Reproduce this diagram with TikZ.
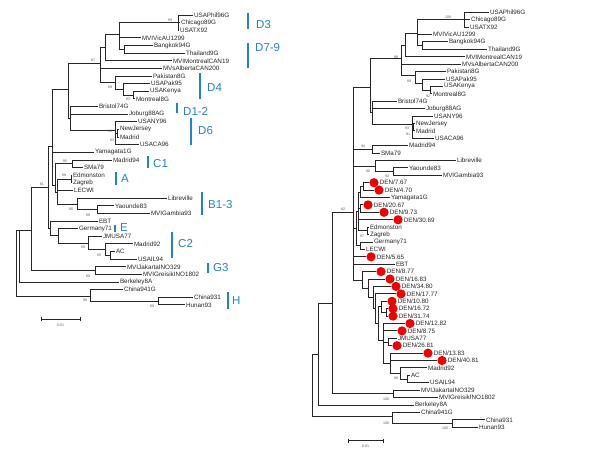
\documentclass[tikz,border=0pt]{standalone}
\usepackage{fontspec}
\setmainfont{Liberation Sans}
\definecolor{grpblue}{RGB}{36,128,206}
\definecolor{denred}{RGB}{240,0,0}
\begin{document}
\begin{tikzpicture}[x=1pt,y=-1pt,
  br/.style={line width=0.9pt, black!85},
  leaf/.style={anchor=west, inner sep=0.8pt, font=\fontsize{6.3}{7}\selectfont, text=black!85},
  bs/.style={inner sep=0, font=\fontsize{3.6}{4}\selectfont, text=black!65},
  grp/.style={anchor=west, inner sep=0, font=\fontsize{11.5}{12}\selectfont, text=grpblue},
  gbar/.style={line width=1.5pt, grpblue},
  dot/.style={circle, fill=denred, draw=none, inner sep=0, minimum size=9.2pt},
  sbar/.style={line width=0.9pt, black!85}]
\useasboundingbox (0,0) rectangle (600,450);

% ================= LEFT TREE =================
\node[leaf] (a1) at (193,15) {USAPhil96G};
\node[leaf] (a2) at (180,22.6) {Chicago89G};
\node[leaf] (a3) at (179,30.3) {USATX92};
\node[leaf] (a4) at (141,37.9) {MVIVicAU1299};
\node[leaf] (a5) at (153,45.5) {Bangkok94G};
\node[leaf] (a6) at (185,53.2) {Thailand9G};
\node[leaf] (a7) at (172,60.8) {MVIMontrealCAN19};
\node[leaf] (a8) at (162,68.4) {MVsAlbertaCAN200};
\node[leaf] (a9) at (152,76) {Pakistan8G};
\node[leaf] (a10) at (150,83.7) {USAPak95};
\node[leaf] (a11) at (149,91.3) {USAKenya};
\node[leaf] (a12) at (135,98.9) {Montreal8G};
\node[leaf] (a13) at (98,106.6) {Bristol74G};
\node[leaf] (a14) at (128,114.2) {Joburg88AG};
\node[leaf] (a15) at (137,121.8) {USANY96};
\node[leaf] (a16) at (119,129.4) {NewJersey};
\node[leaf] (a17) at (119,137.1) {Madrid};
\node[leaf] (a18) at (139,144.7) {USACA96};
\node[leaf] (a19) at (94,152.3) {Yamagata1G};
\node[leaf] (a20) at (112,160) {Madrid94};
\node[leaf] (a21) at (83,167.6) {SMa79};
\node[leaf] (a22) at (72,175.2) {Edmonston};
\node[leaf] (a23) at (72,182.9) {Zagreb};
\node[leaf] (a24) at (73,190.5) {LECWI};
\node[leaf] (a25) at (167,198.1) {Libreville};
\node[leaf] (a26) at (114,205.8) {Yaounde83};
\node[leaf] (a27) at (150,213.4) {MVIGambia93};
\node[leaf] (a28) at (98,221) {EBT};
\node[leaf] (a29) at (78,228.6) {Germany71};
\node[leaf] (a30) at (102,236.3) {JMUSA77};
\node[leaf] (a31) at (133,243.9) {Madrid92};
\node[leaf] (a32) at (115,251.5) {AC};
\node[leaf] (a33) at (137,259.2) {USAIL94};
\node[leaf] (a34) at (126,266.8) {MVIJakartaINO329};
\node[leaf] (a35) at (142,274.4) {MVIGreisikINO1802};
\node[leaf] (a36) at (119,282) {Berkeley8A};
\node[leaf] (a37) at (123,289.6) {China941G};
\node[leaf] (a38) at (193,297.3) {China931};
\node[leaf] (a39) at (185,304.9) {Hunan93};

\coordinate (aR) at (16,263);
\coordinate (a19n) at (19,230);
\coordinate (a31n) at (31,230);
\coordinate (aG3) at (95,270.6);
\coordinate (aH) at (90,296);
\coordinate (aCH) at (158,301.1);
\coordinate (a81) at (48,187);
\coordinate (aLE) at (50,228.4);
\coordinate (a58) at (58,235.8);
\coordinate (aJ) at (88,243);
\coordinate (aK) at (105,249.6);
\coordinate (aL) at (110,255.4);
\coordinate (aM) at (52,146);
\coordinate (aS) at (55,185);
\coordinate (aS2) at (57,192);
\coordinate (aC1) at (72,163.8);
\coordinate (aA) at (71,179);
\coordinate (aB) at (77,204.3);
\coordinate (aYG) at (97,209.6);
\coordinate (aG68) at (68,89);
\coordinate (aE70) at (70,118);
\coordinate (aD6) at (115,130);
\coordinate (aNJ) at (117,133.2);
\coordinate (aN97) at (100,63);
\coordinate (aP1) at (105,47.5);
\coordinate (aN119) at (119,34.8);
\coordinate (aD3) at (178,22.6);
\coordinate (aBT) at (124,49.3);
\coordinate (aD4) at (115,82.5);
\coordinate (aV) at (123,89);
\coordinate (aW) at (133,95.1);

\foreach \p/\c in {aR/a19n, aR/aH, a19n/a31n, a19n/a36, a31n/a81, a31n/aG3,
  aG3/a34, aG3/a35, aH/a37, aH/aCH, aCH/a38, aCH/a39, a81/aM, a81/aLE,
  aLE/a28, aLE/a58, a58/a29, a58/aJ, aJ/a30, aJ/aK, aK/a31, aK/aL, aL/a32, aL/a33,
  aM/aG68, aM/a19, aM/aS, aS/aC1, aS/aS2, aS2/aA, aS2/a24, aS2/aB,
  aC1/a20, aC1/a21, aA/a22, aA/a23, aB/a25, aB/aYG, aYG/a26, aYG/a27,
  aG68/aN97, aG68/aE70, aE70/a13, aE70/a14, aE70/aD6, aD6/a15, aD6/aNJ, aD6/a18,
  aNJ/a16, aNJ/a17, aN97/aP1, aN97/a8, aN97/aD4, aP1/aN119, aP1/a7,
  aN119/aD3, aN119/a4, aN119/aBT, aD3/a1, aD3/a2, aD3/a3, aBT/a5, aBT/a6,
  aD4/a9, aD4/aV, aV/a10, aV/aW, aW/a11, aW/a12}
  \draw[br] (\p) |- (\c);

\foreach \t/\x/\y in {99/170/20, 97/93/60, 89/110/87, 93/128/99, 98/110/131, 93/112/140,
  95/65/161, 98/64/175, 90/71/209, 99/88/215, 81/42/184, 99/83/247, 95/99/255,
  99/88/276, 99/85/300, 99/152/306}
  \node[bs] at (\x,\y) {\t};

% group labels
\draw[gbar] (248,12.7) -- (248,29.3);  \node[grp] (gD3) at (256,25) {D3};
\draw[gbar] (248,42.7) -- (248,68.3);  \node[grp] (gD7) at (255,48) {D7-9};
\draw[gbar] (200,72.7) -- (200,99.3);  \node[grp] (gD4) at (207,88) {D4};
\draw[gbar] (177,103) -- (177,113);    \node[grp] (gD1) at (183,111) {D1-2};
\draw[gbar] (191,118) -- (191,145);    \node[grp] (gD6) at (198,131) {D6};
\draw[gbar] (148,156) -- (148,168);    \node[grp] (gC1) at (153,164) {C1};
\draw[gbar] (116,172) -- (116,185);    \node[grp] (gA) at (121,179) {A};
\draw[gbar] (202,192) -- (202,215);    \node[grp] (gB) at (208,205) {B1-3};
\draw[gbar] (115,225) -- (115,232);    \node[grp] (gE) at (120,228) {E};
\draw[gbar] (172,232) -- (172,258);    \node[grp] (gC2) at (178,244) {C2};
\draw[gbar] (208,263) -- (208,273);    \node[grp] (gG3) at (213,268) {G3};
\draw[gbar] (228,292) -- (228,309);    \node[grp] (gH) at (232,301) {H};

% scale bar left
\coordinate (sa1) at (41,319); \coordinate (sa2) at (80,319);
\draw[sbar] (sa1) -- (sa2);
\draw[sbar] ([yshift=-2pt]sa1) -- ([yshift=2pt]sa1);
\draw[sbar] ([yshift=-2pt]sa2) -- ([yshift=2pt]sa2);
\node[bs] (sla) at (60.5,325) {0.01};

% ================= RIGHT TREE =================
\node[leaf] (b1) at (489,12.3) {USAPhil96G};
\node[leaf] (b2) at (470,19.7) {Chicago89G};
\node[leaf] (b3) at (469,27.1) {USATX92};
\node[leaf] (b4) at (432,34.5) {MVIVicAU1299};
\node[leaf] (b5) at (448,41.9) {Bangkok94G};
\node[leaf] (b6) at (487,49.4) {Thailand9G};
\node[leaf] (b7) at (465,56.8) {MVIMontrealCAN19};
\node[leaf] (b8) at (461,64.2) {MVsAlbertaCAN200};
\node[leaf] (b9) at (446,71.6) {Pakistan8G};
\node[leaf] (b10) at (445,79) {USAPak95};
\node[leaf] (b11) at (443,86.4) {USAKenya};
\node[leaf] (b12) at (432,93.8) {Montreal8G};
\node[leaf] (b13) at (397,101.2) {Bristol74G};
\node[leaf] (b14) at (425,108.6) {Joburg88AG};
\node[leaf] (b15) at (433,116) {USANY96};
\node[leaf] (b16) at (415,123.5) {NewJersey};
\node[leaf] (b17) at (415,130.9) {Madrid};
\node[leaf] (b18) at (434,138.3) {USACA96};
\node[leaf] (b19) at (408,145.7) {Madrid94};
\node[leaf] (b20) at (380,153.1) {SMa79};
\node[leaf] (b21) at (456,160.5) {Libreville};
\node[leaf] (b22) at (408,167.9) {Yaounde83};
\node[leaf] (b23) at (442,175.3) {MVIGambia93};
\node[dot] (b24) at (374,182.7) {}; \node[leaf] at (b24.east) {DEN/7.67};
\node[dot] (b25) at (379,190.1) {}; \node[leaf] at (b25.east) {DEN/4.70};
\node[leaf] (b26) at (390,197.5) {Yamagata1G};
\node[dot] (b27) at (368,204.9) {}; \node[leaf] at (b27.east) {DEN/20.67};
\node[dot] (b28) at (384,212.3) {}; \node[leaf] at (b28.east) {DEN/9.73};
\node[dot] (b29) at (398,219.8) {}; \node[leaf] at (b29.east) {DEN/30.69};
\node[leaf] (b30) at (369,227.2) {Edmonston};
\node[leaf] (b31) at (369,234.6) {Zagreb};
\node[leaf] (b32) at (373,242) {Germany71};
\node[leaf] (b33) at (365,249.4) {LECWI};
\node[dot] (b34) at (371,256.8) {}; \node[leaf] at (b34.east) {DEN/5.65};
\node[leaf] (b35) at (395,264.2) {EBT};
\node[dot] (b36) at (381,271.6) {}; \node[leaf] at (b36.east) {DEN/8.77};
\node[dot] (b37) at (390,279) {}; \node[leaf] at (b37.east) {DEN/16.83};
\node[dot] (b38) at (396,286.4) {}; \node[leaf] at (b38.east) {DEN/34.80};
\node[dot] (b39) at (401,293.9) {}; \node[leaf] at (b39.east) {DEN/17.77};
\node[dot] (b40) at (392,301.3) {}; \node[leaf] at (b40.east) {DEN/10.80};
\node[dot] (b41) at (393,308.7) {}; \node[leaf] at (b41.east) {DEN/16.72};
\node[dot] (b42) at (393,316.1) {}; \node[leaf] at (b42.east) {DEN/31.74};
\node[dot] (b43) at (410,323.5) {}; \node[leaf] at (b43.east) {DEN/12.82};
\node[dot] (b44) at (402,330.9) {}; \node[leaf] at (b44.east) {DEN/8.75};
\node[leaf] (b45) at (397,338.3) {JMUSA77};
\node[dot] (b46) at (397,345.7) {}; \node[leaf] at (b46.east) {DEN/26.81};
\node[dot] (b47) at (428,353.1) {}; \node[leaf] at (b47.east) {DEN/13.83};
\node[dot] (b48) at (442,360.5) {}; \node[leaf] at (b48.east) {DEN/40.81};
\node[leaf] (b49) at (427,367.9) {Madrid92};
\node[leaf] (b50) at (410,375.4) {AC};
\node[leaf] (b51) at (429,382.8) {USAIL94};
\node[leaf] (b52) at (420,390.2) {MVIJakartaINO329};
\node[leaf] (b53) at (438,397.6) {MVIGreisikINO1802};
\node[leaf] (b54) at (414,405) {Berkeley8A};
\node[leaf] (b55) at (420,412.4) {China941G};
\node[leaf] (b56) at (485,419.8) {China931};
\node[leaf] (b57) at (478,427.2) {Hunan93};

\coordinate (bR) at (312,385);
\coordinate (b318) at (318,354);
\coordinate (b332) at (332,303);
\coordinate (bG3) at (393,393.9);
\coordinate (bH) at (392,416.1);
\coordinate (bCH) at (452,423.5);
\coordinate (b82) at (353,212);
\coordinate (bRG) at (370,87);
\coordinate (bRE) at (372,112);
\coordinate (bD6) at (412,124);
\coordinate (bNJ) at (413,127.2);
\coordinate (bN98) at (401,58);
\coordinate (bN405) at (405,45);
\coordinate (bN417) at (417,33);
\coordinate (bD3) at (464,19.7);
\coordinate (bBT) at (422,45.7);
\coordinate (bD4) at (415,75.3);
\coordinate (bV) at (422,83.4);
\coordinate (bW) at (430,90.1);
\coordinate (bC1) at (372,149.4);
\coordinate (bB) at (375,166);
\coordinate (bYG) at (393,171.6);
\coordinate (bX) at (356,228);
\coordinate (bXY) at (358,211);
\coordinate (bY) at (360,192);
\coordinate (bP763) at (363,186.4);
\coordinate (bQ) at (360,208.6);
\coordinate (bEZ) at (367,230.9);
\coordinate (bGL) at (360,245.7);
\coordinate (bZ) at (362,280);
\coordinate (bZ2) at (368,288);
\coordinate (bZ3) at (373,297);
\coordinate (bZ4) at (375,308);
\coordinate (bZ5) at (378,323);
\coordinate (bN10) at (381,306.9);
\coordinate (bP16) at (386,312.4);
\coordinate (bZ6) at (383,340);
\coordinate (bJD) at (388,342);
\coordinate (bZ8) at (390,363);
\coordinate (bM400) at (400,373.5);
\coordinate (bACU) at (407,379.1);

\foreach \p/\c in {bR/b318, bR/bH, b318/b332, b318/b54, b332/b82, b332/bG3,
  bG3/b52, bG3/b53, bH/b55, bH/bCH, bCH/b56, bCH/b57,
  b82/bRG, b82/bC1, b82/bB, b82/bX, b82/b34, b82/b35, b82/bZ,
  bRG/bN98, bRG/bRE, bRE/b13, bRE/b14, bRE/bD6, bD6/b15, bD6/bNJ, bD6/b18,
  bNJ/b16, bNJ/b17, bN98/bN405, bN98/b8, bN98/bD4, bN405/bN417, bN405/b7,
  bN417/bD3, bN417/b4, bN417/bBT, bD3/b1, bD3/b2, bD3/b3, bBT/b5, bBT/b6,
  bD4/b9, bD4/bV, bV/b10, bV/bW, bW/b11, bW/b12,
  bC1/b19, bC1/b20, bB/b21, bB/bYG, bYG/b22, bYG/b23,
  bX/bXY, bX/bGL, bXY/bY, bXY/bQ, bXY/b29, bXY/bEZ, bY/bP763, bY/b26,
  bP763/b24, bP763/b25, bQ/b27, bQ/b28, bEZ/b30, bEZ/b31, bGL/b32, bGL/b33,
  bZ/b36, bZ/bZ2, bZ2/b37, bZ2/bZ3, bZ3/b38, bZ3/bZ4, bZ4/b39, bZ4/bZ5,
  bZ5/bN10, bZ5/bZ6, bN10/b40, bN10/bP16, bP16/b41, bP16/b42,
  bZ6/b43, bZ6/b44, bZ6/bJD, bZ6/bZ8, bJD/b45, bJD/b46,
  bZ8/b47, bZ8/b48, bZ8/bM400, bM400/b49, bM400/bACU, bACU/b50, bACU/b51}
  \draw[br] (\p) |- (\c);

\foreach \t/\x/\y in {100/448/17, 98/396/57, 89/409/81, 92/428/96, 93/407/128, 91/408/134,
  94/363/146, 90/368/171, 93/387/176, 82/343/209, 97/362/236, 86/396/378,
  100/386/399, 100/386/423, 100/445/428}
  \node[bs] at (\x,\y) {\t};

% scale bar right
\coordinate (sb1) at (348,440.7); \coordinate (sb2) at (383,440.7);
\draw[sbar] (sb1) -- (sb2);
\draw[sbar] ([yshift=-2pt]sb1) -- ([yshift=2pt]sb1);
\draw[sbar] ([yshift=-2pt]sb2) -- ([yshift=2pt]sb2);
\node[bs] (slb) at (365.5,446.5) {0.01};
\end{tikzpicture}
\end{document}
